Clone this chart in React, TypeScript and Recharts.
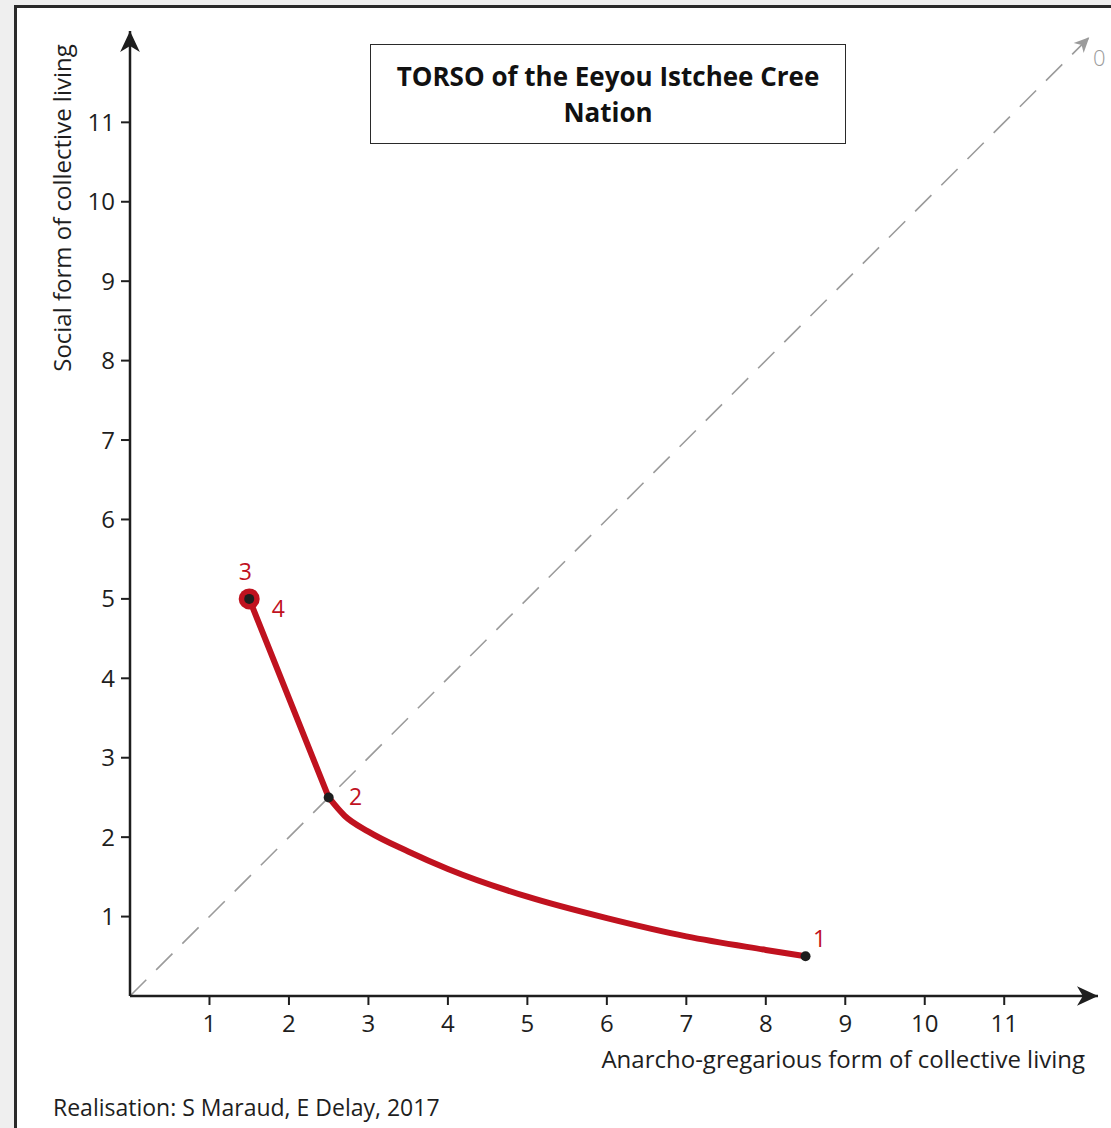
import { ComposedChart, Label, Line, ReferenceDot, ReferenceLine, Scatter, XAxis, YAxis } from 'recharts';

const FONT = '"Open Sans", "Noto Sans", sans-serif';
const RED = '#c0121f';
const INK = '#1e1e1e';
const GREY = '#9b9b9b';

// axes
const xTicks = [1, 2, 3, 4, 5, 6, 7, 8, 9, 10, 11];
const yTicks = [1, 2, 3, 4, 5, 6, 7, 8, 9, 10, 11];
const xMax = 12.18;
const yMax = 12.15;
const diagonalEnd = 12.07;

// trajectory: straight drop from stage 3/4 to stage 2 ...
const approachX = [1.5, 2.5];
const approachY = [5.0, 2.5];
// ... then the long curve from stage 2 out to stage 1
const descentX = [2.5, 2.7, 3, 3.5, 4, 5, 6, 7, 8, 8.5];
const descentY = [2.5, 2.27, 2.07, 1.82, 1.6, 1.25, 0.98, 0.75, 0.58, 0.5];

// numbered stages
const stageNames = ['1', '2', '3', '4'];
const stageX = [8.5, 2.5, 1.5, 1.5];
const stageY = [0.5, 2.5, 5, 5];

const approach = approachX.map((x, i) => ({ x, y: approachY[i] }));
const descent = descentX.map((x, i) => ({ x, y: descentY[i] }));
const stages = stageNames.map((name, i) => ({ name, x: stageX[i], y: stageY[i] }));

const labelOffset: Record<string, [number, number]> = {
  '1': [14, -17],
  '2': [27, 0],
  '3': [-4, -27],
  '4': [29, 10],
};

function StageMark(props: any) {
  const { cx, cy, payload } = props;
  const [dx, dy] = labelOffset[payload.name];
  return (
    <g>
      {payload.name === '3' && <circle cx={cx} cy={cy} r={10.5} fill={RED} />}
      {payload.name !== '4' && <circle cx={cx} cy={cy} r={5} fill={INK} />}
      <text x={cx + dx} y={cy + dy} dy="0.35em" textAnchor="middle" fill={RED} fontSize={23} fontFamily={FONT}>
        {payload.name}
      </text>
    </g>
  );
}

function AxisArrow({ cx, cy, angle, color, size }: any) {
  const s = size;
  return (
    <path
      transform={`translate(${cx},${cy}) rotate(${angle})`}
      d={`M0,0 L${-s},${-s * 0.47} L${-s * 0.72},0 L${-s},${s * 0.47} Z`}
      fill={color}
    />
  );
}

function XTitle(props: any) {
  const vb = props.viewBox || { x: 130, y: 996, width: 968 };
  return (
    <text x={vb.x + vb.width - 13} y={vb.y + 72} textAnchor="end" fill={INK} fontSize={24} fontFamily={FONT}>
      Anarcho-gregarious form of collective living
    </text>
  );
}

function YTitle(props: any) {
  const vb = props.viewBox || { x: 70, y: 31, width: 60 };
  const x = vb.x - 7;
  const y = vb.y + 177;
  return (
    <text x={x} y={y} transform={`rotate(-90,${x},${y})`} dy="0.35em" textAnchor="middle" fill={INK} fontSize={24} fontFamily={FONT}>
      Social form of collective living
    </text>
  );
}

export default function App() {
  const tickStyle = { fill: INK, fontSize: 24, fontFamily: FONT };
  return (
    <div style={{ position: 'absolute', left: 0, top: 0, width: 1111, height: 1128, background: '#efefef', overflow: 'hidden' }}>
      <div
        style={{
          position: 'absolute',
          left: 14,
          top: 5,
          width: 1120,
          height: 1140,
          background: '#fff',
          borderTop: '3px solid #2a2a2a',
          borderLeft: '3px solid #2a2a2a',
        }}
      />
      <div style={{ position: 'absolute', left: 0, top: 0 }}>
        <ComposedChart width={1111} height={1128} margin={{ top: 31, right: 13, bottom: 72, left: 70 }}>
          <XAxis
            type="number"
            dataKey="x"
            domain={[0, xMax]}
            ticks={xTicks}
            interval={0}
            height={60}
            tickSize={9}
            tickMargin={10}
            tick={tickStyle}
            axisLine={{ stroke: INK, strokeWidth: 2.5 }}
            tickLine={{ stroke: INK, strokeWidth: 2 }}
          >
            <Label content={<XTitle />} />
          </XAxis>
          <YAxis
            type="number"
            dataKey="y"
            domain={[0, yMax]}
            ticks={yTicks}
            interval={0}
            width={60}
            tickSize={9}
            tickMargin={6}
            tick={tickStyle}
            axisLine={{ stroke: INK, strokeWidth: 2.5 }}
            tickLine={{ stroke: INK, strokeWidth: 2 }}
          >
            <Label content={<YTitle />} />
          </YAxis>
          <ReferenceLine
            segment={[
              { x: 0, y: 0 },
              { x: diagonalEnd, y: diagonalEnd },
            ]}
            stroke={GREY}
            strokeWidth={1.6}
            strokeDasharray="23 14"
          />
          <ReferenceDot
            x={diagonalEnd}
            y={diagonalEnd}
            shape={(p: any) => (
              <g>
                <AxisArrow cx={p.cx} cy={p.cy} angle={-45} color={GREY} size={15} />
                <text x={p.cx + 10} y={p.cy + 21} dy="0.35em" textAnchor="middle" fill={GREY} fontSize={22} fontFamily={FONT} fontWeight={300}>
                  0
                </text>
              </g>
            )}
          />
          <ReferenceDot x={xMax} y={0} shape={(p: any) => <AxisArrow cx={p.cx} cy={p.cy} angle={0} color={INK} size={21} />} />
          <ReferenceDot x={0} y={yMax} shape={(p: any) => <AxisArrow cx={p.cx} cy={p.cy} angle={-90} color={INK} size={21} />} />
          <Line
            data={approach}
            dataKey="y"
            type="linear"
            stroke={RED}
            strokeWidth={6}
            strokeLinecap="round"
            dot={false}
            activeDot={false}
            isAnimationActive={false}
          />
          <Line
            data={descent}
            dataKey="y"
            type="monotone"
            stroke={RED}
            strokeWidth={6}
            strokeLinecap="round"
            dot={false}
            activeDot={false}
            isAnimationActive={false}
          />
          <Scatter data={stages} dataKey="y" shape={<StageMark />} isAnimationActive={false} />
        </ComposedChart>
      </div>
      <div
        style={{
          position: 'absolute',
          left: 370,
          top: 44,
          width: 476,
          height: 100,
          boxSizing: 'border-box',
          border: '1.5px solid #2a2a2a',
          background: '#fff',
          paddingTop: 13,
          textAlign: 'center',
          fontFamily: FONT,
          fontWeight: 700,
          fontSize: 26,
          lineHeight: '36px',
          color: '#111',
        }}
      >
        TORSO of the Eeyou Istchee Cree
        <br />
        Nation
      </div>
      <div
        style={{
          position: 'absolute',
          left: 53,
          top: 1096,
          fontFamily: FONT,
          fontSize: 23,
          lineHeight: '23px',
          color: INK,
          whiteSpace: 'nowrap',
        }}
      >
        Realisation: S Maraud, E Delay, 2017
      </div>
    </div>
  );
}
